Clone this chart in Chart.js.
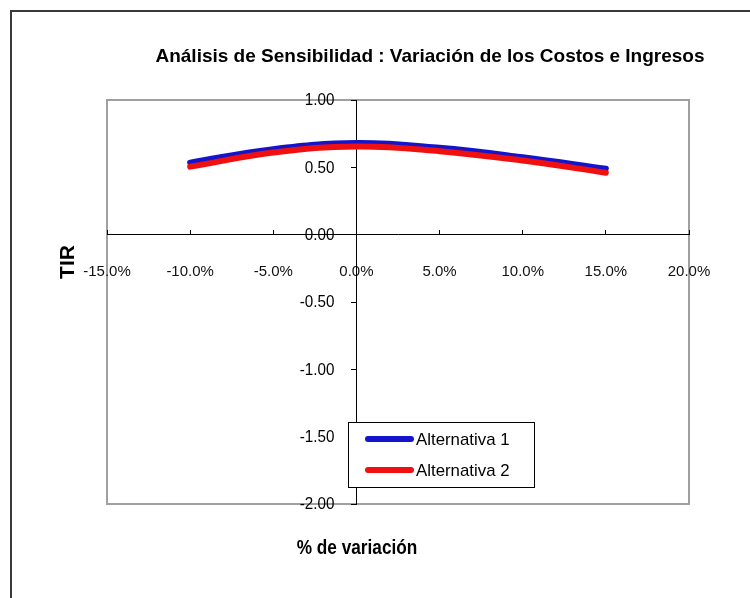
<!DOCTYPE html>
<html>
<head>
<meta charset="utf-8">
<script src="https://cdn.jsdelivr.net/npm/chart.js@4.4.1/dist/chart.umd.min.js"></script>
<style>
html,body{margin:0;padding:0;background:#fff;overflow:hidden;}
#wrap{width:750px;height:598px;position:relative;}
</style>
</head>
<body>
<div id="wrap"><canvas id="c" width="750" height="598"></canvas></div>
<script>
const chartTitle = 'Análisis de Sensibilidad : Variación de los Costos e Ingresos';
const xTitle = '% de variación';
const yTitle = 'TIR';
const variation = [-10, -5, 0, 5, 10, 15];
const seriesNames = ['Alternativa 1', 'Alternativa 2'];
const alt1 = [0.535, 0.635, 0.68, 0.645, 0.575, 0.49];
const alt2 = [0.505, 0.61, 0.655, 0.62, 0.55, 0.46];
const xTicks = [-15, -10, -5, 0, 5, 10, 15, 20];
const yTicks = [-2, -1.5, -1, -0.5, 0, 0.5, 1];

const FONT = '"Liberation Sans", Arial, sans-serif';
const colors = ['#1414cc', '#f01010'];

function condensedText(ctx, text, x, y, sx) {
  ctx.save();
  ctx.translate(x, y);
  ctx.scale(sx, 1);
  ctx.fillText(text, 0, 0);
  ctx.restore();
}

const decor = {
  id: 'decor',
  beforeDraw(chart) {
    const ctx = chart.ctx;
    const a = chart.chartArea;
    ctx.save();
    ctx.fillStyle = '#fff';
    ctx.fillRect(0, 0, chart.width, chart.height);
    ctx.strokeStyle = '#3a3a3a';
    ctx.lineWidth = 2;
    ctx.beginPath();
    ctx.moveTo(11, chart.height + 5);
    ctx.lineTo(11, 11);
    ctx.lineTo(chart.width + 5, 11);
    ctx.stroke();
    ctx.strokeStyle = '#a0a0a0';
    ctx.lineWidth = 2;
    ctx.strokeRect(a.left, a.top, a.right - a.left, a.bottom - a.top);
    ctx.restore();
  },
  afterDraw(chart) {
    const ctx = chart.ctx;
    const ys = chart.scales.y;
    const xs = chart.scales.x;
    const axisX = xs.getPixelForValue(0);
    ctx.save();
    ctx.fillStyle = '#000';
    ctx.font = '16px ' + FONT;
    ctx.textAlign = 'right';
    ctx.textBaseline = 'middle';
    ys.ticks.forEach(t => {
      condensedText(ctx, t.label, axisX - 22, ys.getPixelForValue(t.value) + 1, 0.95);
    });
    ctx.textAlign = 'center';
    ctx.font = 'bold 19px ' + FONT;
    condensedText(ctx, chartTitle, 430, 57, 1.0);
    ctx.font = 'bold 21px ' + FONT;
    condensedText(ctx, xTitle, 357, 548, 0.82);
    ctx.translate(68, 262);
    ctx.rotate(-Math.PI / 2);
    ctx.fillText(yTitle, 0, 0);
    ctx.restore();

    const L = {x: 348, y: 422, w: 186, h: 65};
    ctx.save();
    ctx.fillStyle = '#fff';
    ctx.fillRect(L.x, L.y, L.w, L.h);
    ctx.strokeStyle = '#000';
    ctx.lineWidth = 1;
    ctx.strokeRect(L.x + 0.5, L.y + 0.5, L.w, L.h);
    ctx.font = '17px ' + FONT;
    ctx.textAlign = 'left';
    ctx.textBaseline = 'middle';
    chart.data.datasets.forEach((ds, i) => {
      const yy = L.y + 17 + i * 31;
      ctx.strokeStyle = ds.borderColor;
      ctx.lineWidth = 6;
      ctx.lineCap = 'round';
      ctx.beginPath();
      ctx.moveTo(368, yy);
      ctx.lineTo(411, yy);
      ctx.stroke();
      ctx.fillStyle = '#000';
      condensedText(ctx, ds.label, 416, yy + 1, 0.99);
    });
    ctx.restore();
  }
};

new Chart(document.getElementById('c'), {
  type: 'line',
  data: {
    datasets: [
      {label: seriesNames[0], data: variation.map((v, i) => ({x: v, y: alt1[i]})), borderColor: colors[0], backgroundColor: colors[0], borderWidth: 6, pointRadius: 0, tension: 0.4, borderCapStyle: 'round', order: 1},
      {label: seriesNames[1], data: variation.map((v, i) => ({x: v, y: alt2[i]})), borderColor: colors[1], backgroundColor: colors[1], borderWidth: 6, pointRadius: 0, tension: 0.4, borderCapStyle: 'round', order: 0}
    ]
  },
  options: {
    responsive: false,
    animation: false,
    layout: {padding: {left: 107, top: 100, right: 61, bottom: 94}},
    plugins: {legend: {display: false}, tooltip: {enabled: false}, title: {display: false}},
    scales: {
      x: {
        type: 'linear',
        position: {y: 0},
        min: -15, max: 20,
        afterBuildTicks: s => { s.ticks = xTicks.map(v => ({value: v})); },
        ticks: {
          callback: v => v.toFixed(1) + '%',
          color: '#111',
          font: {family: FONT, size: 15},
          padding: 33,
          maxRotation: 0,
          autoSkip: false
        },
        grid: {drawOnChartArea: false, drawTicks: true, tickLength: -5, color: '#000'},
        border: {display: true, color: '#000', width: 1}
      },
      y: {
        type: 'linear',
        position: {x: 0},
        min: -2, max: 1,
        afterBuildTicks: s => { s.ticks = yTicks.map(v => ({value: v})); },
        ticks: {
          display: false,
          callback: v => v.toFixed(2)
        },
        grid: {drawOnChartArea: false, drawTicks: true, tickLength: 5, color: '#000'},
        border: {display: true, color: '#000', width: 1}
      }
    }
  },
  plugins: [decor]
});
</script>
</body>
</html>
